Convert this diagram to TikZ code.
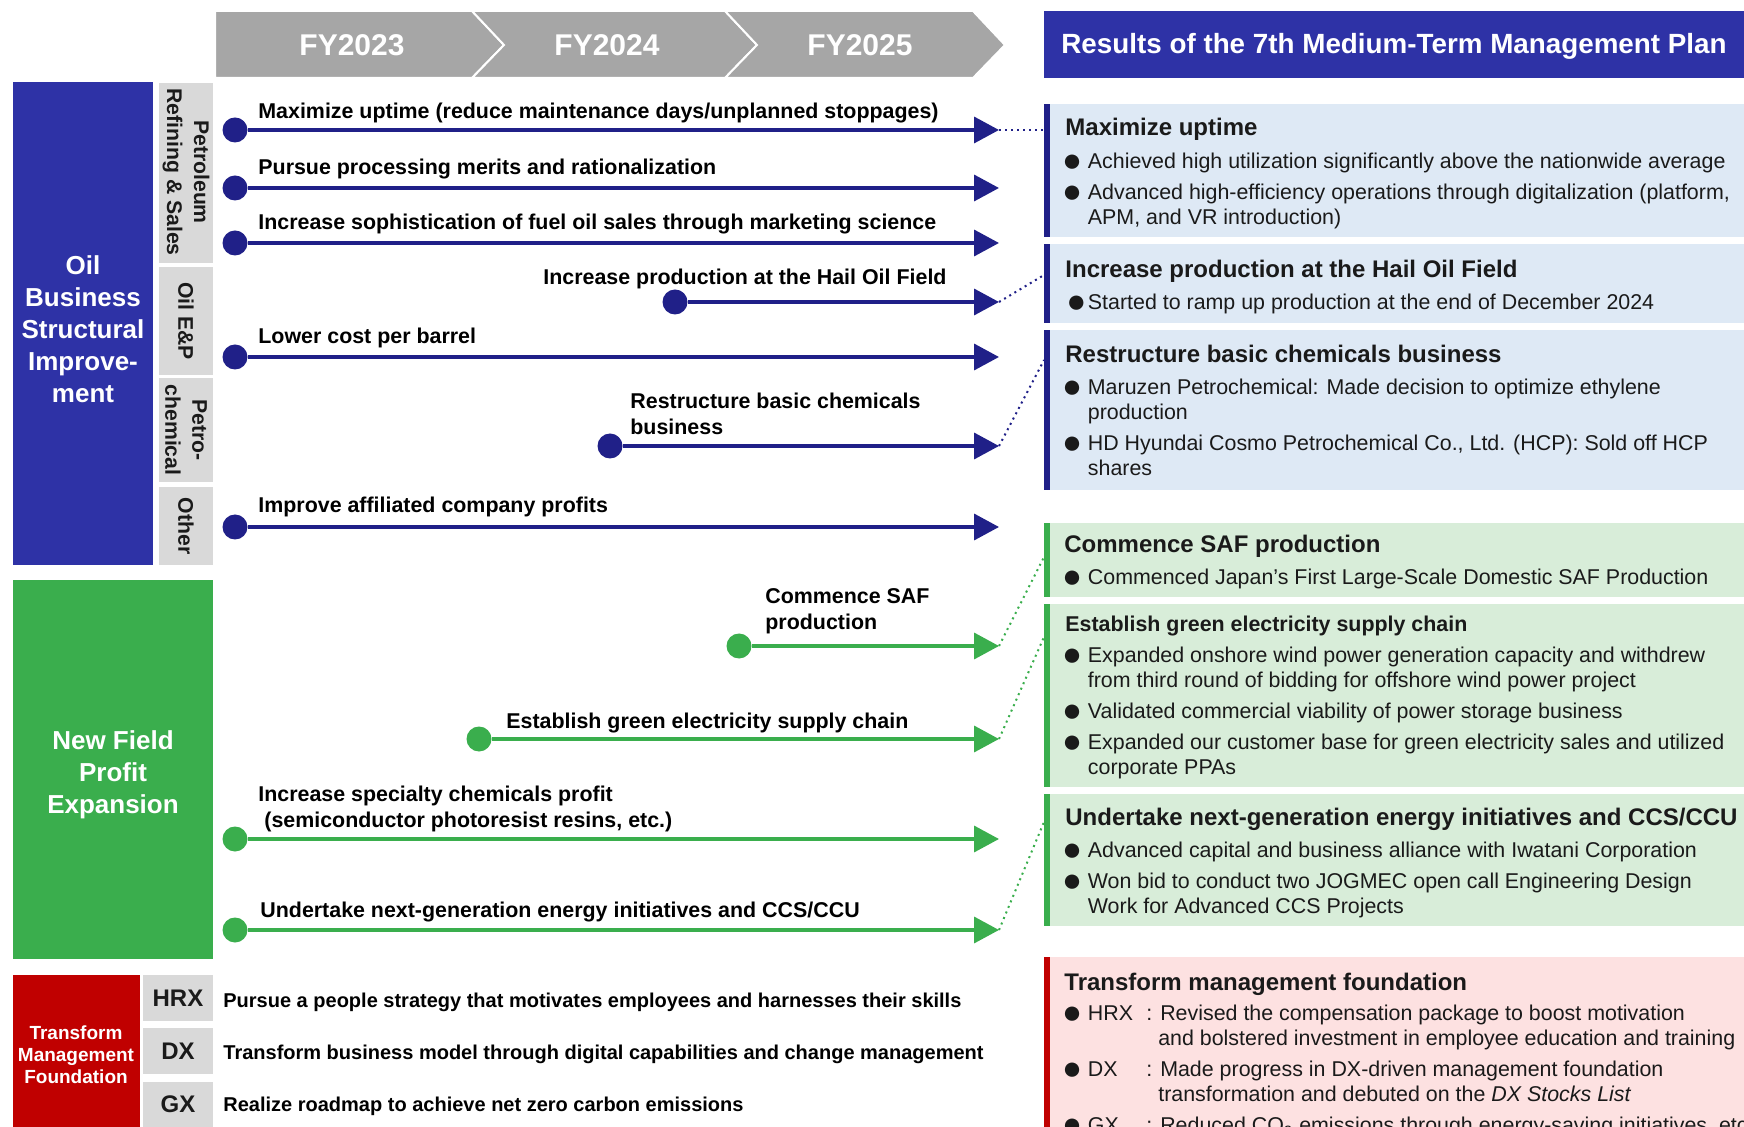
\documentclass[tikz,border=0pt]{standalone}
\usepackage{amsmath}
\usepackage{amssymb}
\usepackage{graphicx}
\usepackage{fontspec}
\setmainfont{Liberation Sans}
\usepackage{tikz}
\usetikzlibrary{arrows.meta}

\definecolor{navy}{RGB}{32,32,136}
\definecolor{royal}{RGB}{46,50,166}
\definecolor{leaf}{RGB}{58,174,77}
\definecolor{crimson}{RGB}{192,0,0}
\definecolor{ash}{RGB}{166,166,166}
\definecolor{mist}{RGB}{217,217,217}
\definecolor{paleblue}{RGB}{222,233,245}
\definecolor{palegreen}{RGB}{216,237,217}
\definecolor{palered}{RGB}{253,225,225}
\definecolor{ink}{RGB}{26,26,26}

\newcommand{\bul}{\makebox[10.75pt][l]{\hspace*{-2.2pt}\raisebox{-1.4pt}{\scalebox{1.55}{●}}}}
\newcommand{\bulc}{\makebox[10.75pt][l]{\raisebox{-1.4pt}{\scalebox{1.55}{●}}}}
\newcommand{\hang}{\hspace*{10.75pt}}
\newcommand{\tagbox}[1]{\bul\makebox[29.25pt][l]{#1}: }
\newcommand{\taghang}{\hspace*{45.95pt}}

\begin{document}
\begin{tikzpicture}[x=0.5pt, y=-0.5pt,
  every node/.style={inner sep=0pt, text=ink},
  yr/.style={text=white, font=\fontsize{15}{18}\selectfont\bfseries},
  big/.style={text=white, align=center, font=\fontsize{13}{16}\selectfont\bfseries},
  side/.style={rotate=-90, align=center, font=\fontsize{10.6}{13.5}\selectfont\bfseries},
  tag/.style={font=\fontsize{12}{14}\selectfont\bfseries},
  lbl/.style={anchor=north west, align=left, text=black, font=\fontsize{10.7}{13}\selectfont\bfseries},
  low/.style={anchor=north west, text=black, font=\fontsize{10}{12}\selectfont\bfseries},
  head/.style={anchor=north west, font=\fontsize{12}{14}\selectfont\bfseries},
  body/.style={anchor=north west, align=left, font=\fontsize{10.7}{12.5}\selectfont},
  dotb/.style={circle, fill=navy, minimum size=12.5pt},
  dotg/.style={circle, fill=leaf, minimum size=12.5pt},
  arrb/.style={draw=navy, line width=1.8pt, -{Triangle[length=12.5pt,width=13pt]}},
  arrg/.style={draw=leaf, line width=1.8pt, -{Triangle[length=12.5pt,width=13pt]}},
  linkb/.style={draw=navy, line width=1pt, dotted},
  linkg/.style={draw=leaf, line width=1pt, dotted}]
\useasboundingbox (0,0) rectangle (1744,1127);
\clip (0,0) rectangle (1744,1127);

\fill[ash, draw=white, line width=1pt] (215,11) -- (472,11) -- (504,45) -- (472,78) -- (215,78) -- cycle;
\fill[ash, draw=white, line width=1pt] (472,11) -- (725,11) -- (757,45) -- (725,78) -- (472,78) -- (504,45) -- cycle;
\fill[ash, draw=white, line width=1pt] (725,11) -- (973,11) -- (1005,45) -- (973,78) -- (725,78) -- (757,45) -- cycle;
\node[yr] (y1) at (352,45) {FY2023};
\node[yr] (y2) at (607,45) {FY2024};
\node[yr] (y3) at (860,45) {FY2025};

\fill[royal] (1044,11) rectangle (1744,78);
\node[anchor=north west, text=white, font=\fontsize{13.9}{16}\selectfont\bfseries] (ttl) at (1061,33) {Results of the 7th Medium-Term Management Plan};

\fill[royal] (13,82) rectangle (153,565);
\node[big] (oil) at (83,329) {Oil\\Business\\Structural\\Improve-\\ment};
\fill[mist] (159,83) rectangle (213,263);
\node[side] (s1) at (186,172) {Petroleum\\Refining \& Sales};
\fill[mist] (159,267) rectangle (213,375);
\node[side] (s2) at (186,321) {Oil E\&P};
\fill[mist] (159,378) rectangle (213,482);
\node[side] (s3) at (186,430) {Petro-\\chemical};
\fill[mist] (159,487) rectangle (213,565);
\node[side] (s4) at (186,526) {Other};

\fill[leaf] (13,580) rectangle (213,959);
\node[big] (nf) at (113,775) {New Field\\Profit\\Expansion};

\fill[crimson] (13,975) rectangle (140,1127);
\node[text=white, align=center, font=\fontsize{9.5}{11}\selectfont\bfseries] (tm) at (76,1055) {Transform\\Management\\Foundation};
\fill[mist] (143,975) rectangle (213,1021);
\node[tag] (hrx) at (178,998) {HRX};
\fill[mist] (143,1028) rectangle (213,1074);
\node[tag] (dx) at (178,1051) {DX};
\fill[mist] (143,1082) rectangle (213,1127);
\node[tag] (gx) at (178,1104) {GX};
\node[low] (q1) at (223,993) {Pursue a people strategy that motivates employees and harnesses their skills};
\node[low] (q2) at (223,1045) {Transform business model through digital capabilities and change management};
\node[low] (q3) at (223,1097) {Realize roadmap to achieve net zero carbon emissions};

\fill[paleblue] (1044,104) rectangle (1744,237);
\fill[navy] (1044,104) rectangle (1050,237);
\node[head] (h1) at (1065,118) {Maximize uptime};
\node[body] (b1) at (1066,153) {\bul Achieved high utilization significantly above the nationwide average\\[3pt]
\bul Advanced high-efficiency operations through digitalization (platform,\\
\hang APM, and VR introduction)};

\fill[paleblue] (1044,244) rectangle (1744,323);
\fill[navy] (1044,244) rectangle (1050,323);
\node[head] (h2) at (1065,260) {Increase production at the Hail Oil Field};
\node[body] (b2) at (1066,294) {\bulc Started to ramp up production at the end of December 2024};

\fill[paleblue] (1044,330) rectangle (1744,490);
\fill[navy] (1044,330) rectangle (1050,490);
\node[head] (h3) at (1065,345) {Restructure basic chemicals business};
\node[body] (b3) at (1066,379) {\bul Maruzen Petrochemical: Made decision to optimize ethylene\\
\hang production\\[3pt]
\bul HD Hyundai Cosmo Petrochemical Co., Ltd. (HCP): Sold off HCP\\
\hang shares};

\fill[palegreen] (1044,523) rectangle (1744,597);
\fill[leaf] (1044,523) rectangle (1050,597);
\node[head] (h4) at (1064,535) {Commence SAF production};
\node[body] (b4) at (1066,569) {\bul Commenced Japan’s First Large-Scale Domestic SAF Production};

\fill[palegreen] (1044,604) rectangle (1744,787);
\fill[leaf] (1044,604) rectangle (1050,787);
\node[head, font=\fontsize{10.7}{13}\selectfont\bfseries] (h5) at (1065,616) {Establish green electricity supply chain};
\node[body] (b5) at (1066,647) {\bul Expanded onshore wind power generation capacity and withdrew\\
\hang from third round of bidding for offshore wind power project\\[3pt]
\bul Validated commercial viability of power storage business\\[3pt]
\bul Expanded our customer base for green electricity sales and utilized\\
\hang corporate PPAs};

\fill[palegreen] (1044,794) rectangle (1744,926);
\fill[leaf] (1044,794) rectangle (1050,926);
\node[head] (h6) at (1065,808) {Undertake next-generation energy initiatives and CCS/CCU};
\node[body] (b6) at (1066,842) {\bul Advanced capital and business alliance with Iwatani Corporation\\[3pt]
\bul Won bid to conduct two JOGMEC open call Engineering Design\\
\hang Work for Advanced CCS Projects};

\fill[palered] (1044,957) rectangle (1744,1127);
\fill[crimson] (1044,957) rectangle (1050,1127);
\node[head] (h7) at (1064,973) {Transform management foundation};
\node[body] (b7) at (1066,1005) {\tagbox{HRX}Revised the compensation package to boost motivation\\
\taghang and bolstered investment in employee education and training\\[3pt]
\tagbox{DX}Made progress in DX-driven management foundation\\
\taghang transformation and debuted on the \textit{DX Stocks List}\\[3pt]
\tagbox{GX}Reduced CO\textsubscript{2} emissions through energy-saving initiatives, etc.};

\coordinate (e1) at (999,130);
\coordinate (e2) at (999,188);
\coordinate (e3) at (999,243);
\coordinate (e4) at (999,302);
\coordinate (e5) at (999,357);
\coordinate (e6) at (999,446);
\coordinate (e7) at (999,527);
\coordinate (e8) at (999,646);
\coordinate (e9) at (999,739);
\coordinate (e10) at (999,839);
\coordinate (e11) at (999,930);
\coordinate (m1) at (1044,130);
\coordinate (m4) at (1044,275);
\coordinate (m6) at (1044,360);
\coordinate (m8) at (1044,557);
\coordinate (m9) at (1044,637);
\coordinate (m11) at (1044,822);

\node[dotb] (c1) at (235,130) {};
\node[dotb] (c2) at (235,188) {};
\node[dotb] (c3) at (235,243) {};
\node[dotb] (c4) at (675,302) {};
\node[dotb] (c5) at (235,357) {};
\node[dotb] (c6) at (610,446) {};
\node[dotb] (c7) at (235,527) {};
\node[dotg] (c8) at (739,646) {};
\node[dotg] (c9) at (479,739) {};
\node[dotg] (c10) at (235,839) {};
\node[dotg] (c11) at (235,930) {};

\node[lbl] (l1) at (258,103) {Maximize uptime (reduce maintenance days/unplanned stoppages)};
\node[lbl] (l2) at (258,159) {Pursue processing merits and rationalization};
\node[lbl] (l3) at (258,214) {Increase sophistication of fuel oil sales through marketing science};
\node[lbl] (l4) at (543,269) {Increase production at the Hail Oil Field};
\node[lbl] (l5) at (258,328) {Lower cost per barrel};
\node[lbl] (l6) at (630,393) {Restructure basic chemicals\\business};
\node[lbl] (l7) at (258,497) {Improve affiliated company profits};
\node[lbl] (l8) at (765,588) {Commence SAF\\production};
\node[lbl] (l9) at (506,713) {Establish green electricity supply chain};
\node[lbl] (l10) at (258,786) {Increase specialty chemicals profit\\\hspace*{3pt}(semiconductor photoresist resins, etc.)};
\node[lbl] (l11) at (260,902) {Undertake next-generation energy initiatives and CCS/CCU};

\path (c1) edge[arrb] (e1);
\path (c2) edge[arrb] (e2);
\path (c3) edge[arrb] (e3);
\path (c4) edge[arrb] (e4);
\path (c5) edge[arrb] (e5);
\path (c6) edge[arrb] (e6);
\path (c7) edge[arrb] (e7);
\path (c8) edge[arrg] (e8);
\path (c9) edge[arrg] (e9);
\path (c10) edge[arrg] (e10);
\path (c11) edge[arrg] (e11);

\path (e1) edge[linkb] (m1);
\path (e4) edge[linkb] (m4);
\path (e6) edge[linkb] (m6);
\path (e8) edge[linkg] (m8);
\path (e9) edge[linkg] (m9);
\path (e11) edge[linkg] (m11);
\end{tikzpicture}
\end{document}
